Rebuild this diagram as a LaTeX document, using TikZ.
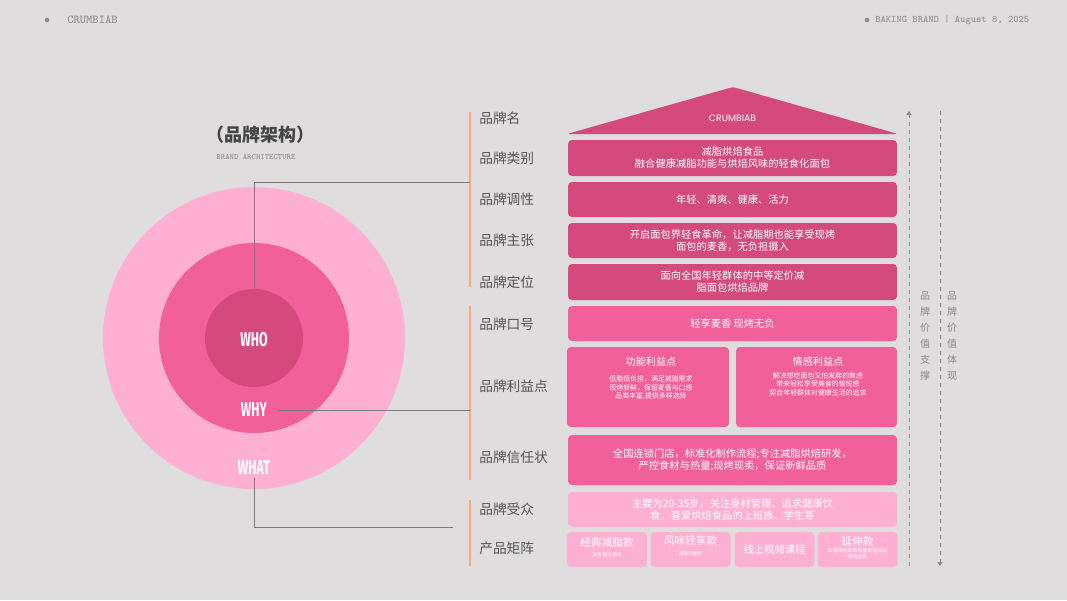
\documentclass[tikz,border=0pt]{standalone}
\usepackage{fontspec}
\setmainfont{Noto Sans CJK SC}
\newfontfamily\roofsans{Poppins}
\newfontfamily\condsans[FakeStretch=0.62]{Fira Sans}
\usetikzlibrary{arrows.meta}
\definecolor{bgcol}{HTML}{DFDDDE}
\definecolor{deeppink}{HTML}{D44A7C}
\definecolor{midpink}{HTML}{F16098}
\definecolor{softpink}{HTML}{FDB0D2}
\definecolor{barorange}{HTML}{F5AA78}
\definecolor{labelgray}{HTML}{555555}
\definecolor{linkgray}{HTML}{7A7A7A}
\definecolor{headgray}{HTML}{8A8A8A}
\tikzset{every picture/.style={x=0.75pt,y=-0.75pt,>=stealth}}
\tikzset{cellsize/.style 2 args={minimum width=#1*0.75pt, minimum height=#2*0.75pt}}
\tikzset{cell/.style={rounded corners=3pt, inner sep=0pt, text=white, align=center,
  font=\fontsize{7.7}{9}\selectfont}}
\tikzset{deep cell/.style={cell, fill=deeppink}}
\tikzset{mid cell/.style={cell, fill=midpink}}
\tikzset{soft cell/.style={cell, fill=softpink}}
\tikzset{rowlabel/.style={anchor=west, inner sep=0pt, text=labelgray,
  font=\fontsize{10.3}{12}\selectfont}}
\tikzset{ring/.style={circle, inner sep=0pt, minimum size=#1*0.75pt}}
\tikzset{ringtext/.style={text=white, inner sep=2pt, font=\condsans\bfseries\fontsize{15}{16}\selectfont}}
\tikzset{linkline/.style={draw=linkgray, line width=0.6pt}}
\tikzset{groupbar/.style={draw=barorange, line width=2.2pt}}
\tikzset{valueline/.style={draw=headgray, dashed, line width=0.6pt,
  -{Triangle[length=3pt,width=4pt]}}}
\tikzset{vertical text/.style={text=headgray, align=center, inner sep=0pt,
  font=\fontsize{7.5}{12}\selectfont}}
\tikzset{headtext/.style={anchor=west, inner sep=0pt, text=headgray}}

\begin{document}
\begin{tikzpicture}
  \fill[bgcol] (0,0) rectangle (1067,600);
  \useasboundingbox (0,0) rectangle (1067,600);

  % header
  \node[circle, fill=headgray, inner sep=0pt, minimum size=3.5pt] (dotL) at (47,20) {};
  \node[headtext, font=\ttfamily\fontsize{9}{10}\selectfont] (brandHead) at (67,20) {CRUMBIAB};
  \node[circle, fill=headgray, inner sep=0pt, minimum size=3.5pt] (dotR) at (867,20) {};
  \node[headtext, font=\ttfamily\fontsize{7.5}{9}\selectfont] (dateHead) at (875,20)
    {BAKING BRAND | August 8, 2025};

  % title
  \node[text=labelgray!80!black, font=\bfseries\fontsize{13.5}{15}\selectfont] (title) at (260,135)
    {（品牌架构）};
  \node[text=headgray, font=\ttfamily\fontsize{6.2}{7}\selectfont] (subtitle) at (256,157)
    {BRAND ARCHITECTURE};

  % rings
  \node[ring=302, fill=softpink] (outer) at (254,338) {};
  \node[ring=190, fill=midpink] (middle) at (254,338) {};
  \node[ring=98, fill=deeppink] (inner) at (254,338) {};
  \node[ringtext] (who) at (254,340) {WHO};
  \node[ringtext] (why) at (254,410) {WHY};
  \node[ringtext] (what) at (254,468) {WHAT};

  % group bars
  \coordinate (barA1) at (470,112);
  \coordinate (barA2) at (470,287);
  \coordinate (barB1) at (470,306);
  \coordinate (barB2) at (470,480);
  \coordinate (barC1) at (470,500);
  \coordinate (barC2) at (470,566);
  \draw[groupbar] (barA1) -- (barA2);
  \draw[groupbar] (barB1) -- (barB2);
  \draw[groupbar] (barC1) -- (barC2);

  \coordinate (joinA) at (470,182);
  \coordinate (joinB) at (470,411);
  \coordinate (joinC) at (453,527);
  \draw[linkline] (inner.north) |- (joinA);
  \draw[linkline] ([xshift=6pt]why.east) -- (why.east -| joinB);
  \draw[linkline] (what.south) |- (joinC);

  % row labels
  \node[rowlabel] (lName) at (479,118) {品牌名};
  \node[rowlabel] (lCat) at (479,158) {品牌类别};
  \node[rowlabel] (lTone) at (479,199) {品牌调性};
  \node[rowlabel] (lClaim) at (479,240) {品牌主张};
  \node[rowlabel] (lPos) at (479,282) {品牌定位};
  \node[rowlabel] (lSlogan) at (479,324) {品牌口号};
  \node[rowlabel] (lBenefit) at (479,386) {品牌利益点};
  \node[rowlabel] (lTrust) at (479,457) {品牌信任状};
  \node[rowlabel] (lAudience) at (479,509) {品牌受众};
  \node[rowlabel] (lMatrix) at (479,548) {产品矩阵};

  % roof
  \fill[deeppink, rounded corners=2pt] (567,134) -- (733,87) -- (898,134) -- cycle;
  \node[text=white, font=\roofsans\fontsize{7}{8}\selectfont] (roofName) at (732.5,118) {CRUMBIAB};

  % boxes
  \node[deep cell, cellsize={329}{36}] (cat) at (732.5,158) {减脂烘焙食品\\融合健康减脂功能与烘焙风味的轻食化面包};
  \node[deep cell, cellsize={329}{35}] (tone) at (732.5,199.5) {年轻、清爽、健康、活力};
  \node[deep cell, cellsize={329}{35}] (claim) at (732.5,240.5)
    {开启面包界轻食革命，让减脂期也能享受现烤\\面包的麦香，无负担摄入};
  \node[deep cell, cellsize={329}{36}] (pos) at (732.5,282) {面向全国年轻群体的中等定价减\\脂面包烘焙品牌};
  \node[mid cell, cellsize={329}{35}] (slogan) at (732.5,323.5) {轻享麦香 现烤无负};

  \node[mid cell, cellsize={162}{80}] (funcBox) at (648,387) {};
  \node[mid cell, cellsize={161}{80}] (emoBox) at (816.5,387) {};
  \node[text=white, font=\fontsize{7.6}{9}\selectfont] (funcTitle) at (651,362) {功能利益点};
  \node[text=white, align=center, font=\fontsize{5.2}{6.4}\selectfont] (funcText) at (651,388)
    {低脂低负担，满足减脂需求\\现烤新鲜，保留麦香与口感\\品类丰富,提供多样选择};
  \node[text=white, font=\fontsize{7.6}{9}\selectfont] (emoTitle) at (818,362) {情感利益点};
  \node[text=white, align=center, font=\fontsize{5.2}{6.4}\selectfont] (emoText) at (818,384)
    {解决想吃面包又怕发胖的焦虑\\带来轻松享受美食的愉悦感\\契合年轻群体对健康生活的追求};

  \node[mid cell, cellsize={329}{50}] (trust) at (732.5,460)
    {全国连锁门店，标准化制作流程;专注减脂烘焙研发，\\严控食材与热量;现烤现卖，保证新鲜品质};
  \node[soft cell, cellsize={329}{35}] (audience) at (732.5,509.5)
    {主要为20-35岁，关注身材管理、追求健康饮\\食，喜爱烘焙食品的上班族、学生等};

  \node[soft cell, cellsize={80}{35}] (prodA) at (607,549.5) {};
  \node[soft cell, cellsize={80}{35}] (prodB) at (690.5,549.5) {};
  \node[soft cell, cellsize={80}{35}] (prodC) at (774.5,549.5) {线上视频课程};
  \node[soft cell, cellsize={80}{35}] (prodD) at (857.5,549.5) {};
  \node[text=white, font=\fontsize{8}{9}\selectfont] (prodAname) at (607,542) {经典减脂款};
  \node[text=white, font=\fontsize{3.5}{4}\selectfont] (prodAnote) at (607,555) {法棍.碱水面包};
  \node[text=white, font=\fontsize{8}{9}\selectfont] (prodBname) at (690.5,540) {风味轻享款};
  \node[text=white, font=\fontsize{3.5}{4}\selectfont] (prodBnote) at (690.5,554) {减脂乳酪包};
  \node[text=white, font=\fontsize{8}{9}\selectfont] (prodDname) at (857.5,541) {延伸款};
  \node[text=white, align=center, font=\fontsize{3.7}{4.6}\selectfont] (prodDnote) at (857.5,554)
    {根据市场需求拓展其他减脂\\烘焙品类};

  % value arrows
  \coordinate (supTop) at (909,111);
  \coordinate (supBot) at (909,566);
  \coordinate (showTop) at (940,111);
  \coordinate (showBot) at (940,566);
  \draw[valueline] (supBot) -- (supTop);
  \draw[valueline] (showTop) -- (showBot);
  \node[vertical text] (supText) at (925,336) {品\\牌\\价\\值\\支\\撑};
  \node[vertical text] (showText) at (952,336) {品\\牌\\价\\值\\体\\现};
\end{tikzpicture}
\end{document}
